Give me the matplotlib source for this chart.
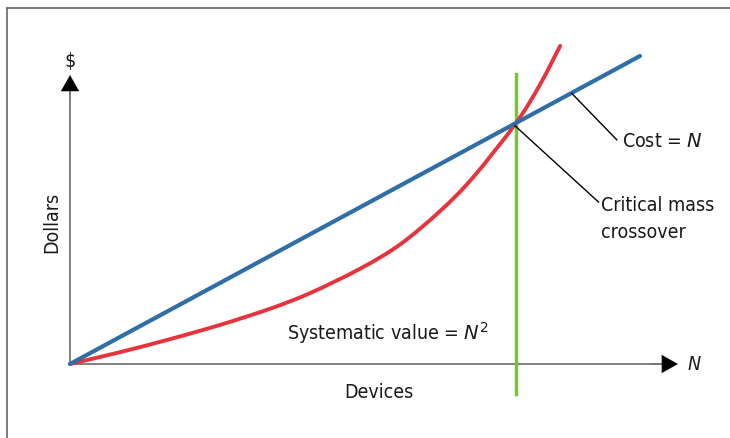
import matplotlib
matplotlib.use("Agg")
import matplotlib.pyplot as plt
from matplotlib.lines import Line2D
from matplotlib.path import Path
from matplotlib.patches import PathPatch

# Data (units: devices on x, dollars on y; crossover at N = 10)
cost_n = [0.0, 12.78]
cost_v = [0.0, 12.78]
value_n = [0.0, 1.12, 2.24, 3.36, 4.48, 5.38, 6.50, 7.40, 8.30, 9.04, 10.0, 10.54, 10.99]
value_v = [0.0, 0.49, 1.03, 1.62, 2.29, 2.94, 3.95, 4.96, 6.35, 7.75, 10.0, 11.6, 13.2]
crossover_n = 10.0
crossover_span = [-1.24, 12.03]

BLUE = "#2f6ea8"
RED = "#e8333c"
GREEN = "#7cc142"
AX = "#6b6b6b"
FONT = ["DejaVu Sans"]


def smooth_path(xs, ys):
    """Catmull-Rom spline through the points, as cubic Bezier segments."""
    pts = list(zip(xs, ys))
    verts = [pts[0]]
    codes = [Path.MOVETO]
    n = len(pts)
    for i in range(n - 1):
        p0 = pts[i - 1] if i > 0 else pts[i]
        p1 = pts[i]
        p2 = pts[i + 1]
        p3 = pts[i + 2] if i + 2 < n else pts[i + 1]
        c1 = (p1[0] + (p2[0] - p0[0]) / 6, p1[1] + (p2[1] - p0[1]) / 6)
        c2 = (p2[0] - (p3[0] - p1[0]) / 6, p2[1] - (p3[1] - p1[1]) / 6)
        verts += [c1, c2, p2]
        codes += [Path.CURVE4] * 3
    return Path(verts, codes)


fig = plt.figure(figsize=(7.30, 4.39), dpi=100)
ax = fig.add_axes([0, 0, 1, 1])
ax.set_xlim(-1.570, 14.798)
ax.set_ylim(-3.071, 15.145)
ax.axis("off")

# frame (top and left edges)
fig.add_artist(Line2D([7/730, 1.0], [1 - 9/439, 1 - 9/439], color="#666666", lw=1.2))
fig.add_artist(Line2D([7/730, 7/730], [0, 1 - 9/439], color="#666666", lw=1.2))

# axes with arrows
ax.plot([0, 13.5], [0, 0], color=AX, lw=1.2, zorder=1)
ax.plot([0, 0], [0, 11.4], color=AX, lw=1.2, zorder=1)
arrow = dict(arrowstyle="-|>,head_length=1.15,head_width=0.65", color="black", lw=0.1,
             shrinkA=0, shrinkB=0)
ax.annotate("", xy=(13.63, 0), xytext=(13.0, 0), arrowprops=arrow)
ax.annotate("", xy=(0, 11.99), xytext=(0, 11.0), arrowprops=arrow)

# green crossover line
ax.plot([crossover_n, crossover_n], crossover_span, color=GREEN, lw=2.5, zorder=2)

# curves
ax.add_patch(PathPatch(smooth_path(value_n, value_v), facecolor="none", edgecolor=RED,
                       lw=2.8, zorder=3, capstyle="round"))
ax.plot(cost_n, cost_v, color=BLUE, lw=3.0, zorder=4, solid_capstyle="round")

# leader lines
ax.plot([11.25, 12.26], [11.23, 9.3], color="black", lw=1.0, zorder=5)
ax.plot([9.98, 11.85], [9.88, 6.72], color="black", lw=1.0, zorder=5)

ts = dict(fontsize=14, family=FONT, fontstretch="condensed", color="#1a1a1a")
ax.text(0, 12.61, "$", ha="center", va="center", **ts)
ax.text(-0.40, 5.9, "Dollars", ha="center", va="center", rotation=90, **ts)
ax.text(6.93, -1.15, "Devices", ha="center", va="center", **ts)
ax.text(13.85, 0.0, "N", ha="left", va="center", style="italic", **ts)
ax.text(7.13, 1.33, "Systematic value = $\\mathit{N}^2$", ha="center", va="center", **ts)
ax.text(12.37, 9.26, "Cost = $\\mathit{N}$", ha="left", va="center", **ts)
ax.text(11.90, 6.06, "Critical mass\ncrossover", ha="left", va="center",
        linespacing=1.5, **ts)

fig.savefig("out.png", dpi=100)
